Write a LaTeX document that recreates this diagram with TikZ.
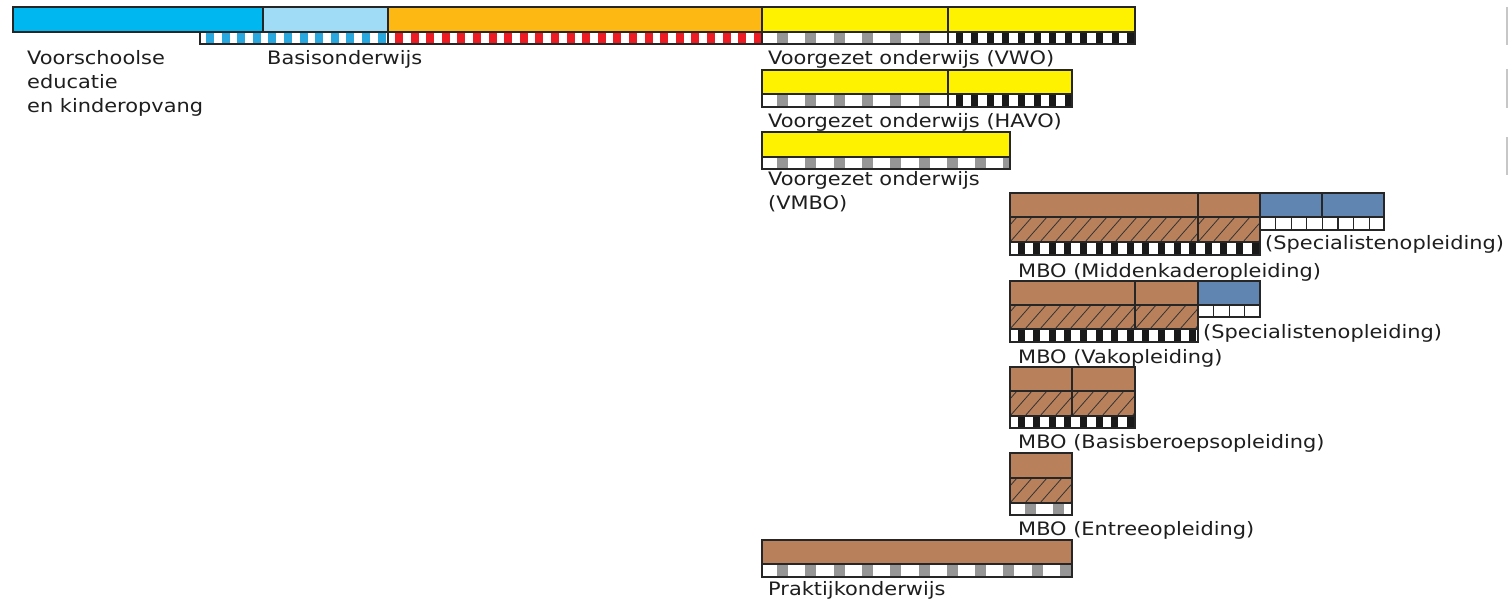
\documentclass[tikz,border=0pt]{standalone}
\usepackage{fontspec}
\setmainfont[FakeStretch=1.13]{DejaVu Sans}
\definecolor{cblue}{RGB}{0,183,239}
\definecolor{clblue}{RGB}{160,220,246}
\definecolor{corange}{RGB}{253,184,19}
\definecolor{cyellow}{RGB}{255,242,0}
\definecolor{cbrown}{RGB}{184,129,92}
\definecolor{csteel}{RGB}{96,133,176}
\definecolor{sblue}{RGB}{41,168,224}
\definecolor{sred}{RGB}{237,28,36}
\definecolor{sgray}{RGB}{150,150,150}
\definecolor{sblack}{RGB}{25,25,25}
\definecolor{txt}{RGB}{30,30,30}
\newcommand\stripe[8]{% x1 x2 y1 y2 colour period offset width
  \begin{scope}
    \clip (#1,#3) rectangle (#2,#4);
    \fill[white] (#1,#3) rectangle (#2,#4);
    \foreach \k in {0,...,30}{
      \fill[#5] ({#1+#7+\k*#6},#3) rectangle ({#1+#7+\k*#6+#8},#4);
    }
  \end{scope}
  \draw[outl] (#1,#3) rectangle (#2,#4);
}
\newcommand\bstripe[4]{\stripe{#1}{#2}{#3}{#4}{sblack}{15.6}{7.5}{7}}
\newcommand\gstripe[4]{\stripe{#1}{#2}{#3}{#4}{sgray}{28.3}{15}{11}}
\newcommand\hatchbox[4]{% x1 x2 y1 y2
  \fill[cbrown] (#1,#3) rectangle (#2,#4);
  \begin{scope}
    \clip (#1,#3) rectangle (#2,#4);
    \foreach \k in {-3,...,20}{
      \draw[hatchl] ({#1+\k*15},#4) -- ++(22,-25);
    }
  \end{scope}
  \draw[outl] (#1,#3) rectangle (#2,#4);
}
\newcommand\squares[4]{% x1 x2 y1 y2
  \fill[white] (#1,#3) rectangle (#2,#4);
  \begin{scope}
    \clip (#1,#3) rectangle (#2,#4);
    \foreach \k in {1,...,10}{
      \draw[outl] ({#1+\k*15.6},#3) -- ({#1+\k*15.6},#4);
    }
  \end{scope}
  \draw[outl] (#1,#3) rectangle (#2,#4);
}
\begin{document}
\begin{tikzpicture}[x=1pt,y=-1pt,
  outl/.style={draw=black!85,line width=1.1pt},
  hatchl/.style={draw=black!80,line width=0.8pt},
  bar/.style={outl},
  lbl/.style={anchor=base west,inner sep=0pt,text=txt,font=\fontsize{18.5}{24}\selectfont},
  edge/.style={draw=black!22,line width=1.2pt}]
\useasboundingbox (0,0) rectangle (1508,604);
\fill[white] (0,0) rectangle (1508,604);
% ---------- row 1 ----------
\stripe{200}{388}{32}{44}{sblue}{15.6}{6}{8}
\stripe{388}{762}{32}{44}{sred}{15.6}{7}{8}
\gstripe{762}{948}{32}{44}
\bstripe{948}{1135}{32}{44}
\filldraw[bar,fill=cblue] (13,7) rectangle (263,32);
\filldraw[bar,fill=clblue] (263,7) rectangle (388,32);
\filldraw[bar,fill=corange] (388,7) rectangle (762,32);
\filldraw[bar,fill=cyellow] (762,7) rectangle (948,32);
\filldraw[bar,fill=cyellow] (948,7) rectangle (1135,32);
\node[lbl] (vs1) at (27,65) {Voorschoolse};
\node[lbl] (vs2) at (27,89) {educatie};
\node[lbl] (vs3) at (27,113) {en kinderopvang};
\node[lbl] (bo) at (267,65) {Basisonderwijs};
\node[lbl] (vwo) at (768,65) {Voorgezet onderwijs (VWO)};
% ---------- HAVO ----------
\gstripe{762}{948}{94}{107}
\bstripe{948}{1072}{94}{107}
\filldraw[bar,fill=cyellow] (762,70) rectangle (948,94);
\filldraw[bar,fill=cyellow] (948,70) rectangle (1072,94);
\node[lbl] (havo) at (768,128) {Voorgezet onderwijs (HAVO)};
% ---------- VMBO ----------
\gstripe{762}{1010}{157}{169}
\filldraw[bar,fill=cyellow] (762,132) rectangle (1010,157);
\node[lbl] (vmbo1) at (768,186) {Voorgezet onderwijs};
\node[lbl] (vmbo2) at (768,210) {(VMBO)};
% ---------- MBO middenkader ----------
\filldraw[bar,fill=cbrown] (1010,193) rectangle (1198,217);
\filldraw[bar,fill=cbrown] (1198,193) rectangle (1260,217);
\hatchbox{1010}{1198}{217}{242}
\hatchbox{1198}{1260}{217}{242}
\bstripe{1010}{1260}{242}{255}
\filldraw[bar,fill=csteel] (1260,193) rectangle (1322,217);
\filldraw[bar,fill=csteel] (1322,193) rectangle (1384,217);
\squares{1260}{1384}{217}{230}
\node[lbl] (spec1) at (1265,250) {(Specialistenopleiding)};
\node[lbl] (mk) at (1018,277) {MBO (Middenkaderopleiding)};
% ---------- MBO vak ----------
\filldraw[bar,fill=cbrown] (1010,281) rectangle (1135,305);
\filldraw[bar,fill=cbrown] (1135,281) rectangle (1198,305);
\hatchbox{1010}{1135}{305}{329}
\hatchbox{1135}{1198}{305}{329}
\bstripe{1010}{1198}{329}{342}
\filldraw[bar,fill=csteel] (1198,281) rectangle (1260,305);
\squares{1198}{1260}{305}{317}
\node[lbl] (spec2) at (1203,338) {(Specialistenopleiding)};
\node[lbl] (vak) at (1018,363) {MBO (Vakopleiding)};
% ---------- MBO basisberoeps ----------
\filldraw[bar,fill=cbrown] (1010,367) rectangle (1072,391);
\filldraw[bar,fill=cbrown] (1072,367) rectangle (1135,391);
\hatchbox{1010}{1072}{391}{416}
\hatchbox{1072}{1135}{391}{416}
\bstripe{1010}{1135}{416}{428}
\node[lbl] (bb) at (1018,448) {MBO (Basisberoepsopleiding)};
% ---------- MBO entree ----------
\filldraw[bar,fill=cbrown] (1010,453) rectangle (1072,478);
\hatchbox{1010}{1072}{478}{503}
\gstripe{1010}{1072}{503}{515}
\node[lbl] (en) at (1018,535) {MBO (Entreeopleiding)};
% ---------- Praktijk ----------
\gstripe{762}{1072}{564}{577}
\filldraw[bar,fill=cbrown] (762,540) rectangle (1072,564);
\node[lbl] (pr) at (768,595) {Praktijkonderwijs};
% ---------- edge marks ----------
\draw[edge] (1507,7) -- (1507,45);
\draw[edge] (1507,69) -- (1507,108);
\draw[edge] (1507,137) -- (1507,175);
\end{tikzpicture}
\end{document}
